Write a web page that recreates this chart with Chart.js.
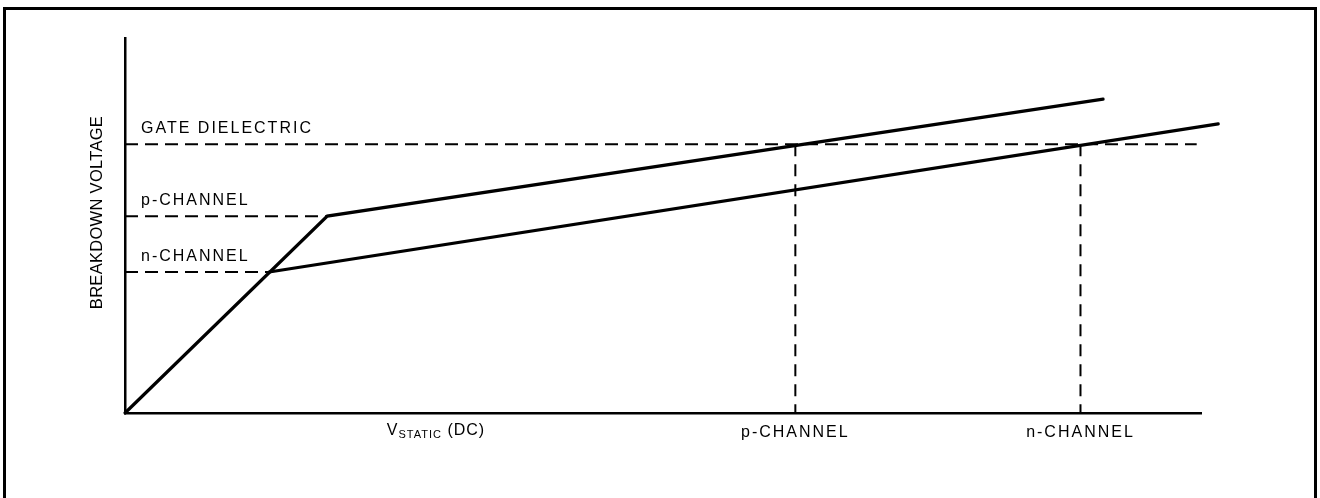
<!DOCTYPE html>
<html><head><meta charset="utf-8">
<script src="https://cdn.jsdelivr.net/npm/chart.js@4"></script>
<style>
html,body{margin:0;padding:0;background:#fff;overflow:hidden;}
#frame{position:absolute;left:3px;top:7px;width:1308px;height:600px;border:3px solid #000;}
#wrap{position:absolute;left:0;top:0;width:1320px;height:498px;}
</style></head><body>
<div id="frame"></div>
<div id="wrap"><canvas id="c"></canvas></div>
<script>
// Schematic values (arbitrary units, axes 0..100)
const pChannelX = [0, 18.8, 90.9];
const pChannelY = [0, 52.5, 83.7];
const nChannelX = [13.4, 101.6];
const nChannelY = [37.6, 77.1];
const levelNames = ['GATE DIELECTRIC', 'p-CHANNEL', 'n-CHANNEL'];
const levelValues = [71.7, 52.5, 37.6];
const levelEndX = [99.6, 18.8, 13.4];
const failureNames = ['p-CHANNEL', 'n-CHANNEL'];
const failureX = [62.3, 88.8];
const staticLabelX = 28.9;
const yTitle = 'BREAKDOWN VOLTAGE';

const INK = '#000';
const FONT = '"Liberation Sans", Arial, Helvetica, sans-serif';

const pts = (xs, ys) => xs.map((x, i) => ({x, y: ys[i]}));

const solid = {borderColor: INK, borderWidth: 3.2, showLine: true, pointRadius: 0, borderCapStyle: 'round', borderJoinStyle: 'miter', clip: false};
const dashed = {borderColor: INK, borderWidth: 2, showLine: true, pointRadius: 0, borderDash: [13, 7], clip: false};
const vdashed = {borderColor: INK, borderWidth: 2, showLine: true, pointRadius: 0, borderDash: [12, 8], clip: false};

const datasets = [
  Object.assign({data: pts(pChannelX, pChannelY)}, solid),
  Object.assign({data: pts(nChannelX, nChannelY)}, solid),
];
levelValues.forEach((v, i) => {
  datasets.push(Object.assign({data: [{x: 0, y: v}, {x: levelEndX[i], y: v}]}, dashed));
});
failureX.forEach(x => {
  datasets.push(Object.assign({data: [{x: x, y: levelValues[0]}, {x: x, y: 0}]}, vdashed));
});

const textPlugin = {
  id: 'schematicText',
  afterDatasetsDraw(chart) {
    const ctx = chart.ctx;
    const xs = chart.scales.x, ys = chart.scales.y;
    ctx.save();
    ctx.fillStyle = INK;
    ctx.textBaseline = 'alphabetic';
    // level labels
    ctx.font = '16px ' + FONT;
    ctx.letterSpacing = '2px';
    ctx.textAlign = 'left';
    levelNames.forEach((t, i) => {
      ctx.fillText(t, xs.getPixelForValue(0) + 16, ys.getPixelForValue(levelValues[i]) - 11);
    });
    // x labels under failure points
    ctx.textAlign = 'center';
    const base = ys.getPixelForValue(0) + 24;
    failureNames.forEach((t, i) => {
      ctx.fillText(t, xs.getPixelForValue(failureX[i]), base);
    });
    // V_STATIC (DC)
    ctx.letterSpacing = '1px';
    ctx.textAlign = 'left';
    const big = '16px ' + FONT, small = '11px ' + FONT;
    ctx.font = big; const wV = ctx.measureText('V').width;
    ctx.font = small; const wS = ctx.measureText('STATIC').width;
    ctx.font = big; const wD = ctx.measureText(' (DC)').width;
    let x0 = xs.getPixelForValue(staticLabelX) - (wV + wS + wD) / 2;
    ctx.font = big; ctx.fillText('V', x0, base - 2); x0 += wV;
    ctx.font = small; ctx.fillText('STATIC', x0, base + 1); x0 += wS;
    ctx.font = big; ctx.fillText(' (DC)', x0, base - 2);
    // y title
    ctx.letterSpacing = '0.3px';
    ctx.font = '16.5px ' + FONT;
    ctx.translate(xs.getPixelForValue(0) - 23, (ys.top + ys.bottom) / 2 - 13);
    ctx.rotate(-Math.PI / 2);
    ctx.textAlign = 'center';
    ctx.fillText(yTitle, 0, 0);
    ctx.restore();
  }
};

new Chart(document.getElementById('c'), {
  type: 'scatter',
  data: {datasets},
  options: {
    responsive: true,
    maintainAspectRatio: false,
    animation: false,
    events: [],
    layout: {padding: {left: 125, right: 119, top: 38, bottom: 85}},
    plugins: {legend: {display: false}, tooltip: {enabled: false}, title: {display: false}},
    scales: {
      x: {type: 'linear', min: 0, max: 100,
          grid: {display: false, drawTicks: false},
          ticks: {display: false},
          border: {display: true, color: INK, width: 2.5}},
      y: {type: 'linear', min: 0, max: 100,
          grid: {display: false, drawTicks: false},
          ticks: {display: false},
          border: {display: true, color: INK, width: 2.5}}
    }
  },
  plugins: [textPlugin]
});
</script>
</body></html>
